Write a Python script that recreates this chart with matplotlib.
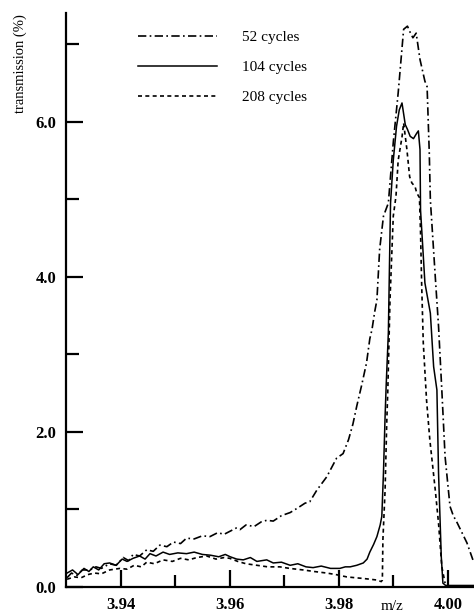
import matplotlib
matplotlib.use("Agg")
import matplotlib.pyplot as plt
from matplotlib.ticker import FixedLocator

plt.rcParams['font.family'] = ['Liberation Serif', 'DejaVu Serif']

# DONNEES (m/z, transmission %)
mz52 = [3.9302, 3.9310, 3.9320, 3.9330, 3.9344, 3.9355, 3.9365, 3.9380, 3.9392, 3.9405,
        3.9415, 3.9423, 3.9435, 3.9448, 3.9460, 3.9472, 3.9485, 3.9497, 3.9510, 3.9521,
        3.9535, 3.9550, 3.9564, 3.9578, 3.9590, 3.9601, 3.9612, 3.9619, 3.9630, 3.9645,
        3.9658, 3.9668, 3.9680, 3.9695, 3.9711, 3.9725, 3.9738, 3.9747, 3.9760, 3.9778,
        3.9790, 3.9796, 3.9808, 3.9818, 3.9826, 3.9833, 3.9842, 3.9851, 3.9857, 3.9861,
        3.9866, 3.9870, 3.9875, 3.9882, 3.9891, 3.9900, 3.9909, 3.9919, 3.9926, 3.9931,
        3.9936, 3.9942, 3.9949, 3.9958, 3.9962, 3.9966, 3.9968, 3.9977, 3.9983, 3.9989,
        3.9995, 4.0004, 4.0010, 4.0017, 4.0026, 4.0035, 4.0046]
tr52 = [0.12, 0.18, 0.15, 0.22, 0.22, 0.26, 0.24, 0.30, 0.28, 0.38,
        0.34, 0.42, 0.40, 0.48, 0.46, 0.54, 0.52, 0.58, 0.56, 0.63,
        0.62, 0.66, 0.65, 0.70, 0.68, 0.72, 0.76, 0.74, 0.80, 0.78,
        0.84, 0.86, 0.85, 0.92, 0.96, 1.02, 1.08, 1.10, 1.25, 1.42,
        1.58, 1.66, 1.72, 1.90, 2.10, 2.33, 2.60, 2.89, 3.20, 3.32,
        3.55, 3.70, 4.35, 4.78, 4.95, 5.73, 6.37, 7.19, 7.23, 7.15,
        7.08, 7.14, 6.80, 6.52, 6.45, 5.60, 4.99, 4.00, 3.36, 2.54,
        1.68, 1.04, 0.92, 0.83, 0.70, 0.57, 0.35]

mz104 = [3.9302, 3.9312, 3.9322, 3.9333, 3.9342, 3.9350, 3.9360, 3.9370, 3.9380, 3.9392,
         3.9403, 3.9412, 3.9423, 3.9435, 3.9445, 3.9454, 3.9465, 3.9478, 3.9490, 3.9505,
         3.9521, 3.9535, 3.9550, 3.9565, 3.9580, 3.9592, 3.9601, 3.9613, 3.9625, 3.9638,
         3.9650, 3.9668, 3.9680, 3.9695, 3.9711, 3.9725, 3.9740, 3.9753, 3.9768, 3.9785,
         3.9802, 3.9812, 3.9821, 3.9833, 3.9845, 3.9852, 3.9857, 3.9864, 3.9870, 3.9876,
         3.9879, 3.9882, 3.9885, 3.9887, 3.9891, 3.9893, 3.9895, 3.9900, 3.9906, 3.9911,
         3.9916, 3.9922, 3.9926, 3.9931, 3.9937, 3.9943, 3.9946, 3.9949, 3.9950, 3.9958,
         3.9968, 3.9974, 3.9980, 3.9983, 3.9988, 3.9991, 3.9996, 4.0010, 4.0030, 4.0048]
tr104 = [0.18, 0.22, 0.16, 0.24, 0.20, 0.26, 0.22, 0.30, 0.31, 0.28,
         0.36, 0.33, 0.37, 0.40, 0.36, 0.43, 0.40, 0.45, 0.42, 0.44,
         0.43, 0.45, 0.42, 0.41, 0.39, 0.42, 0.39, 0.36, 0.35, 0.38,
         0.33, 0.35, 0.31, 0.32, 0.28, 0.30, 0.26, 0.25, 0.27, 0.24,
         0.24, 0.26, 0.26, 0.28, 0.31, 0.36, 0.45, 0.55, 0.65, 0.80,
         0.91, 1.47, 2.20, 2.60, 3.28, 4.13, 4.95, 5.50, 5.94, 6.15,
         6.24, 5.96, 5.90, 5.81, 5.78, 5.85, 5.88, 5.64, 4.86, 3.92,
         3.53, 2.84, 2.54, 1.47, 0.39, 0.05, 0.02, 0.02, 0.02, 0.02]

mz208 = [3.9302, 3.9315, 3.9328, 3.9340, 3.9352, 3.9365, 3.9380, 3.9399, 3.9412, 3.9425,
         3.9438, 3.9448, 3.9462, 3.9478, 3.9495, 3.9510, 3.9525, 3.9540, 3.9558, 3.9575,
         3.9590, 3.9600, 3.9615, 3.9630, 3.9650, 3.9670, 3.9692, 3.9710, 3.9735, 3.9755,
         3.9778, 3.9795, 3.9815, 3.9830, 3.9845, 3.9858, 3.9870, 3.9878, 3.9880, 3.9881,
         3.9885, 3.9888, 3.9890, 3.9894, 3.9900, 3.9905, 3.9909, 3.9916, 3.9919, 3.9925,
         3.9930, 3.9934, 3.9940, 3.9943, 3.9948, 3.9950, 3.9952, 3.9955, 3.9961, 3.9967,
         3.9977, 3.9983, 3.9989, 3.9995]
tr208 = [0.10, 0.13, 0.12, 0.16, 0.18, 0.17, 0.22, 0.24, 0.23, 0.28,
         0.26, 0.32, 0.30, 0.35, 0.33, 0.37, 0.35, 0.38, 0.40, 0.36,
         0.38, 0.37, 0.33, 0.30, 0.28, 0.26, 0.26, 0.24, 0.22, 0.20,
         0.18, 0.16, 0.13, 0.12, 0.11, 0.10, 0.09, 0.07, 0.09, 0.61,
         1.25, 2.11, 2.54, 3.70, 4.78, 5.04, 5.50, 5.80, 5.98, 5.64,
         5.29, 5.21, 5.16, 5.08, 5.02, 4.57, 3.92, 3.15, 2.41, 1.90,
         1.25, 0.82, 0.26, 0.05]

labels = ['52 cycles', '104 cycles', '208 cycles']
xticks = [3.94, 3.96, 3.98, 4.00]
xticklabels = ['3.94', '3.96', '3.98', '4.00']
yticks = [0.0, 2.0, 4.0, 6.0]
yticklabels = ['0.0', '2.0', '4.0', '6.0']

# FIGURE
fig = plt.figure(figsize=(4.74, 6.15), dpi=100)
ax = fig.add_axes([0.1392, 0.0455, 0.8608, 0.9334])

ax.plot(mz52, tr52, color='black', lw=1.2, dashes=(5, 2, 1, 2), label=labels[0])
ax.plot(mz104, tr104, color='black', lw=1.1, label=labels[1])
ax.plot(mz208, tr208, color='black', lw=1.2, dashes=(2.4, 2.0), label=labels[2])

ax.set_xlim(3.930, 4.0048)
ax.set_ylim(0, 7.4)

# AXES / GRADUATIONS
ax.spines['top'].set_visible(False)
ax.spines['right'].set_visible(False)
ax.spines['left'].set_linewidth(1.6)
ax.spines['bottom'].set_linewidth(1.6)

ax.set_xticks(xticks)
ax.set_xticklabels(xticklabels)
ax.xaxis.set_minor_locator(FixedLocator([3.95, 3.97, 3.99]))
ax.set_yticks(yticks)
ax.set_yticklabels(yticklabels)
ax.yaxis.set_minor_locator(FixedLocator([1.0, 3.0, 5.0, 7.0]))

ax.tick_params(which='major', direction='in', length=12.5, width=1.6, labelsize=12, pad=7)
ax.tick_params(which='minor', direction='in', length=9, width=1.6)
for t in ax.get_xticklabels() + ax.get_yticklabels():
    t.set_fontweight('bold')

fig.text(20 / 474, 1 - 64 / 615, 'transmission (%)', rotation=90, fontsize=10.5,
         ha='center', va='center')
fig.text(392 / 474, 1 - 607 / 615, 'm/z', fontsize=11, ha='center', va='center')

ax.legend(loc='upper left', bbox_to_anchor=(0.176, 0.969), frameon=False, fontsize=11,
          handlelength=5.2, handletextpad=1.6, labelspacing=1.05,
          borderpad=0, borderaxespad=0)

fig.savefig('out.png', dpi=100)
